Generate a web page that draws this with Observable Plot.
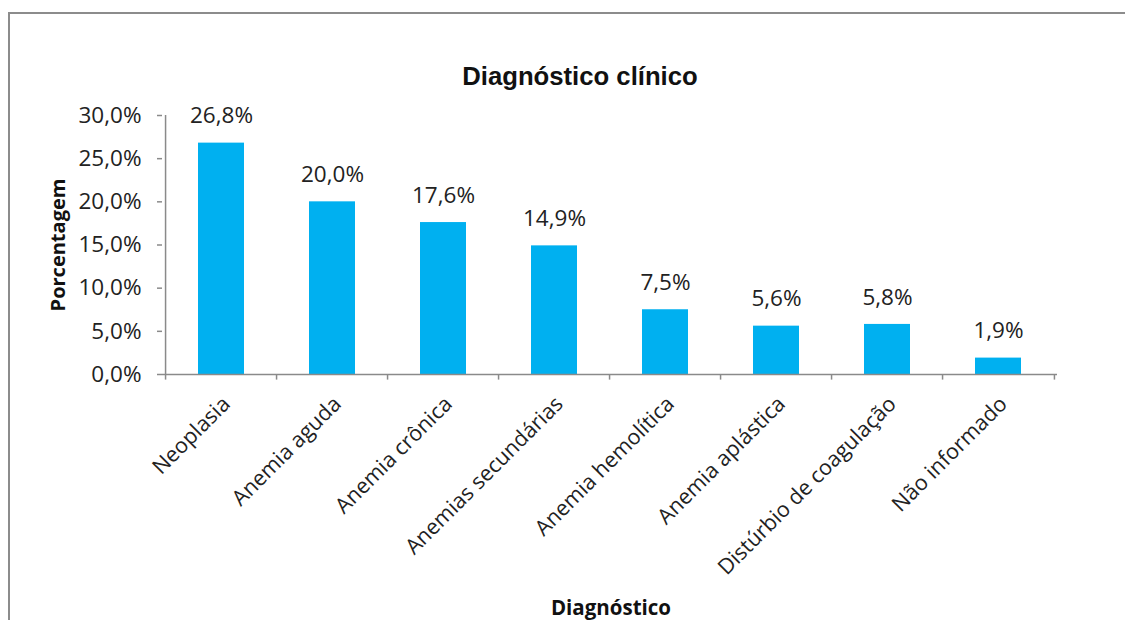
<!DOCTYPE html>
<html><head><meta charset="utf-8">
<script src="https://cdn.jsdelivr.net/npm/d3@7"></script>
<script src="https://cdn.jsdelivr.net/npm/@observablehq/plot@0.6"></script>
<style>
html,body{margin:0;background:#fff;width:1125px;height:620px;overflow:hidden}
body{position:relative;font-family:"Open Sans",sans-serif;color:#222}
#frame{position:absolute;left:8px;top:12px;width:1117px;height:608px;border-left:2px solid #8c8c8c;border-top:2px solid #8c8c8c;box-sizing:border-box}
#title{position:absolute;left:0;width:1160px;top:62px;text-align:center;font:bold 25.7px "Liberation Sans",sans-serif;color:#111}
#ytitle{position:absolute;left:57px;top:245px;transform:translate(-50%,-50%) rotate(-90deg);font:bold 20px "Open Sans",sans-serif;white-space:nowrap;color:#111}
#xtitle{position:absolute;left:611px;top:607px;transform:translate(-50%,-50%);font:bold 20.5px "Open Sans",sans-serif;white-space:nowrap;color:#111}
#chart{position:absolute;left:0;top:0}
</style></head>
<body>
<div id="frame"></div>
<div id="chart"></div>
<div id="title">Diagnóstico clínico</div>
<div id="ytitle">Porcentagem</div>
<div id="xtitle">Diagnóstico</div>
<script>
const categories = ["Neoplasia","Anemia aguda","Anemia crônica","Anemias secundárias","Anemia hemolítica","Anemia aplástica","Distúrbio de coagulação","Não informado"];
const values = [26.8, 20.0, 17.6, 14.9, 7.5, 5.6, 5.8, 1.9];
const yTicks = [0, 5, 10, 15, 20, 25, 30];

const data = categories.map((c, i) => ({cat: c, v: values[i]}));
const fmt = v => v.toFixed(1).replace(".", ",") + "%";

const W = 1125, H = 620, mL = 162, mR = 68, mT = 115, mB = 246;
const step = (W - mL - mR) / categories.length;
const axisColor = "#8a8a8a";
const textColor = "#222";
const font = "Open Sans, sans-serif";

const chart = Plot.plot({
  width: W, height: H,
  marginLeft: mL, marginRight: mR, marginTop: mT, marginBottom: mB,
  style: {fontFamily: font, background: "transparent", color: textColor, overflow: "visible"},
  x: {domain: categories, paddingInner: 0.59, paddingOuter: 0.295, label: null, axis: null},
  y: {domain: [0, 30], label: null, axis: null},
  marks: [
    Plot.barY(data, {x: "cat", y: "v", fill: "#00B0F0"}),
    Plot.ruleY([0], {stroke: axisColor, strokeWidth: 1.5}),
    Plot.ruleX([categories[0]], {y1: 0, y2: 30, dx: -step / 2, stroke: axisColor, strokeWidth: 1.5}),
    Plot.ruleX(categories, {y1: 0, y2: -0.65, dx: -step / 2, stroke: axisColor, strokeWidth: 1.5, clip: false}),
    Plot.ruleX([categories[categories.length - 1]], {y1: 0, y2: -0.65, dx: step / 2, stroke: axisColor, strokeWidth: 1.5}),
    Plot.axisY({ticks: yTicks, tickFormat: fmt, tickSize: 5, tickPadding: 16, fontSize: 22.5, stroke: axisColor, strokeWidth: 1.5, fill: textColor, label: null}),
    Plot.axisX({tickRotate: -45, tickSize: 0, tickPadding: 26, dx: 5, fontSize: 21.5, fill: textColor, label: null}),
    Plot.text(data, {x: "cat", y: "v", text: d => fmt(d.v), dy: -27, fontSize: 22.5, fill: textColor})
  ]
});
document.getElementById("chart").appendChild(chart);
</script>
</body></html>
